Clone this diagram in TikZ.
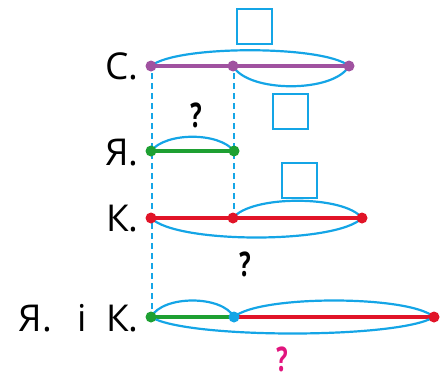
\documentclass[tikz,border=0pt]{standalone}
\usepackage{fontspec}
\setmainfont{Open Sans}
\usetikzlibrary{calc}
\definecolor{cpur}{RGB}{160,82,160}
\definecolor{cblue}{RGB}{20,165,230}
\definecolor{cgreen}{RGB}{30,160,50}
\definecolor{cred}{RGB}{225,20,40}
\definecolor{cmag}{RGB}{225,20,125}
\begin{document}
\begin{tikzpicture}[x=1pt,y=-1pt,
  dot/.style={circle,fill=#1,inner sep=0pt,minimum size=11pt},
  seg/.style={line width=3.5pt,draw=#1},
  arcl/.style={line width=2.2pt,draw=cblue},
  vdash/.style={line width=1.8pt,draw=cblue,dash pattern=on 6pt off 4pt},
  qbox/.style={draw=cblue,line width=2pt,minimum size=35pt,inner sep=0pt},
  lbl/.style={anchor=east,font=\fontsize{37}{40}\selectfont,inner sep=0pt},
  qm/.style={font=\fontsize{34}{36}\selectfont\bfseries,inner sep=0pt}]
\useasboundingbox (0,0) rectangle (447,380);
% labels
\node[lbl] (lc) at (139,66) {С.};
\node[lbl] (ly) at (139,153) {Я.};
\node[lbl] (lk) at (139,219) {К.};
\node[lbl] (lyk) at (139,318) {Я.\hspace{26pt}і\hspace{19pt}К.};
% points
\coordinate (c1) at (151,66); \coordinate (c2) at (233,66); \coordinate (c3) at (349,66);
\coordinate (y1) at (151,151); \coordinate (y2) at (234,151);
\coordinate (k1) at (151,218); \coordinate (k2) at (233,218); \coordinate (k3) at (362,218);
\coordinate (s1) at (151,317); \coordinate (s2) at (234,317); \coordinate (s3) at (434,317);
% dashed verticals
\coordinate (d1) at (152,312); \coordinate (d2) at (234,213);
\draw[vdash] (c1) ++(1,7) -- (d1);
\draw[vdash] (c2) ++(1,7) -- (d2);
% segments
\draw[seg=cpur] (c1) -- (c3);
\draw[seg=cgreen] (y1) -- (y2);
\draw[seg=cred] (k1) -- (k3);
\draw[seg=cgreen] (s1) -- (s2);
\draw[seg=cred] (s2) -- (s3);
% arcs
\draw[arcl] (c1) .. controls ($(c1)+(25,-21)$) and ($(c3)+(-25,-21)$) .. (c3);
\draw[arcl] (c2) .. controls ($(c2)+(15,27)$) and ($(c3)+(-15,27)$) .. (c3);
\draw[arcl] (y1) .. controls ($(y1)+(15,-19)$) and ($(y2)+(-15,-19)$) .. (y2);
\draw[arcl] (k2) .. controls ($(k2)+(18,-23)$) and ($(k3)+(-18,-23)$) .. (k3);
\draw[arcl] (k1) .. controls ($(k1)+(25,26)$) and ($(k3)+(-25,26)$) .. (k3);
\draw[arcl] (s1) .. controls ($(s1)+(12,-22)$) and ($(s2)+(-12,-22)$) .. (s2);
\draw[arcl] (s2) .. controls ($(s2)+(25,-22)$) and ($(s3)+(-25,-22)$) .. (s3);
\draw[arcl] (s1) .. controls ($(s1)+(35,22)$) and ($(s3)+(-35,22)$) .. (s3);
% dots
\node[dot=cpur] at (c1) {}; \node[dot=cpur] at (c2) {}; \node[dot=cpur] at (c3) {};
\node[dot=cgreen] at (y1) {}; \node[dot=cgreen] at (y2) {};
\node[dot=cred] at (k1) {}; \node[dot=cred] at (k2) {}; \node[dot=cred] at (k3) {};
\node[dot=cgreen] at (s1) {}; \node[dot=cblue] at (s2) {}; \node[dot=cred] at (s3) {};
% boxes
\node[qbox] (b1) at (254,26) {};
\node[qbox] (b2) at (290,111) {};
\node[qbox] (b3) at (299,180) {};
% question marks
\node[qm] (q1) at (196,115) {\scalebox{0.7}[1]{?}};
\node[qm] (q2) at (245,264) {\scalebox{0.7}[1]{?}};
\node[qm,text=cmag] (q3) at (282,359) {\scalebox{0.7}[1]{?}};
\end{tikzpicture}
\end{document}
